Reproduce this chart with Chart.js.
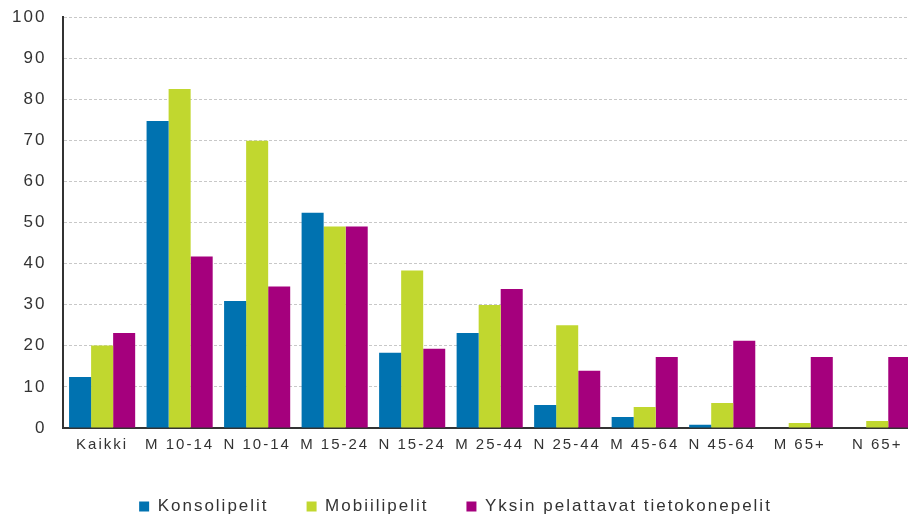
<!DOCTYPE html>
<html>
<head>
<meta charset="utf-8">
<script src="https://cdn.jsdelivr.net/npm/chart.js@4"></script>
<style>
  html, body { margin: 0; padding: 0; overflow: hidden; background: #fff; }
  #wrap { position: relative; width: 930px; height: 522px; }
</style>
</head>
<body>
<div id="wrap"><canvas id="chart"></canvas></div>
<script>
const categories = ['Kaikki', 'M 10-14', 'N 10-14', 'M 15-24', 'N 15-24', 'M 25-44', 'N 25-44', 'M 45-64', 'N 45-64', 'M 65+', 'N 65+'];
const konsolipelit = [12.4, 74.7, 30.9, 52.4, 18.3, 23.1, 5.6, 2.7, 0.8, 0, 0];
const mobiilipelit = [20.1, 82.5, 69.9, 49.0, 38.3, 29.9, 25.0, 5.1, 6.1, 1.2, 1.7];
const tietokonepelit = [23.1, 41.7, 34.4, 49.0, 19.3, 33.8, 13.9, 17.3, 21.2, 17.3, 17.3];
const yTicks = [0, 10, 20, 30, 40, 50, 60, 70, 80, 90, 100];

// wider letter spacing, like the original picture
const spacing = {
  id: 'spacing',
  beforeLayout(chart) { chart.ctx.letterSpacing = '2px'; },
  beforeDraw(chart) { chart.ctx.letterSpacing = '2px'; }
};

const data = {
  labels: categories,
  datasets: [
    { label: 'Konsolipelit', data: konsolipelit, backgroundColor: '#0072b0' },
    { label: 'Mobiilipelit', data: mobiilipelit, backgroundColor: '#c1d72f' },
    { label: 'Yksin pelattavat tietokonepelit', data: tietokonepelit, backgroundColor: '#a5007d' }
  ]
};

const config = {
  type: 'bar',
  data: data,
  plugins: [spacing],
  options: {
    responsive: true,
    maintainAspectRatio: false,
    animation: false,
    categoryPercentage: 0.853,
    barPercentage: 1,
    layout: { padding: { left: -5, right: 14, top: 0, bottom: -3 } },
    scales: {
      x: {
        grid: { display: false },
        border: { color: '#333', width: 2 },
        ticks: { color: '#333', font: { family: 'Liberation Sans', size: 15 }, padding: 0, maxRotation: 0, autoSkip: false },
        afterFit(scale) { scale.height += 6; }
      },
      y: {
        min: 0,
        max: 100,
        afterBuildTicks(scale) { scale.ticks = yTicks.map(v => ({ value: v })); },
        afterFit(scale) { scale.paddingTop = 17; },
        grid: { color: '#c8c8c8', drawTicks: false },
        border: { color: '#333', width: 2, dash: [3, 2] },
        ticks: { color: '#333', font: { family: 'Liberation Sans', size: 17 }, padding: 17 }
      }
    },
    plugins: {
      tooltip: { enabled: false },
      legend: {
        position: 'bottom',
        labels: {
          color: '#333',
          font: { family: 'Liberation Sans', size: 17 },
          boxWidth: 10,
          boxHeight: 10,
          padding: 38
        }
      }
    }
  }
};

const chart = new Chart(document.getElementById('chart'), config);
</script>
</body>
</html>
